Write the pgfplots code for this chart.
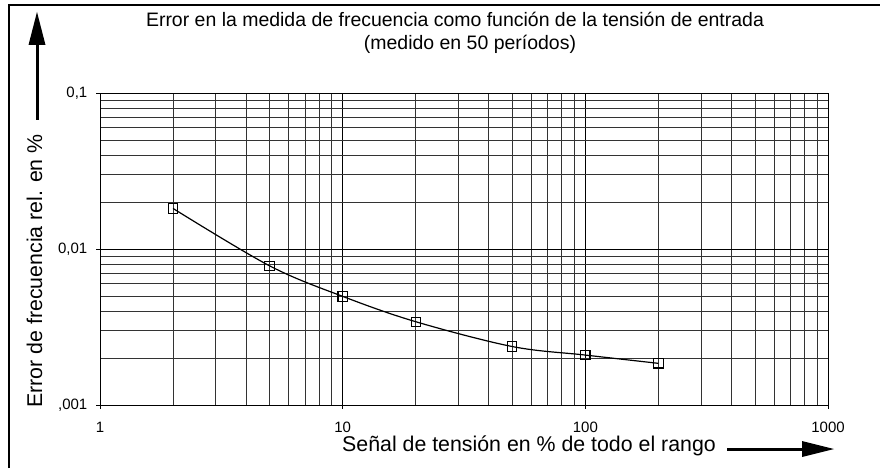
\documentclass[border=0pt]{standalone}
\usepackage{fontspec}
\setmainfont{Liberation Sans}
\usepackage{pgfplots}
\pgfplotsset{compat=1.18}

\begin{document}
\begin{tikzpicture}[x=0.75pt,y=0.75pt]
% page = 880 x 468 px, y measured from the bottom
\path[use as bounding box] (0,0) rectangle (880,468);
\draw[line width=1pt] (9,0) -- (9,463) -- (880,463);

% axis box: x 100..828 px, y 63..375 px
\begin{axis}[
  at={(75pt,47.25pt)}, anchor=south west,
  scale only axis, width=546pt, height=234pt,
  xmode=log, ymode=log,
  xmin=1, xmax=1000, ymin=0.001, ymax=0.1,
  xtick={1,10,100,1000}, xticklabels={1,10,100,1000},
  ytick={0.001,0.01,0.1}, yticklabels={{,001},{0,01},{0,1}},
  grid=both,
  major grid style={black, line width=0.65pt},
  minor grid style={black!80, line width=0.55pt},
  axis line style={black, line width=0.7pt},
  tick style={black, line width=0.5pt},
  tick align=outside, major tick length=3pt, minor tick length=0pt,
  ytick pos=left, xtick pos=bottom,
  tick label style={font=\fontsize{11.25pt}{13pt}\selectfont},
  xticklabel style={font=\fontsize{11.25pt}{13pt}\selectfont, yshift=-6pt},
  yticklabel style={font=\fontsize{11.25pt}{13pt}\selectfont, xshift=-3pt},
]
\addplot[black, line width=0.9pt, smooth, tension=0.55,
  mark=square, mark size=3.5pt, mark options={solid, line width=0.8pt}]
  coordinates {
  (2,0.0182) (5,0.0078) (10,0.00497) (20,0.00342)
  (50,0.00237) (100,0.00209) (200,0.00185)
};
\end{axis}

% titles and axis labels
\node[anchor=base] at (455,441) {\fontsize{14.6pt}{17pt}\selectfont Error en la medida de frecuencia como función de la tensión de entrada};
\node[anchor=base] at (470,418) {\fontsize{14.6pt}{17pt}\selectfont (medido en 50 períodos)};
\node[anchor=base, rotate=90] at (42,197) {\fontsize{16pt}{19pt}\selectfont Error de frecuencia rel. en \%};
\node[anchor=base] at (529,17) {\fontsize{16pt}{19pt}\selectfont Señal de tensión en \% de todo el rango};

% arrows
\draw[line width=2.25pt] (37,348) -- (37,424);
\fill (28.5,423) -- (45.5,423) -- (37,456) -- cycle;
\draw[line width=2.25pt] (727,19) -- (803,19);
\fill (802,27) -- (802,11) -- (834,19) -- cycle;
\end{tikzpicture}
\end{document}
